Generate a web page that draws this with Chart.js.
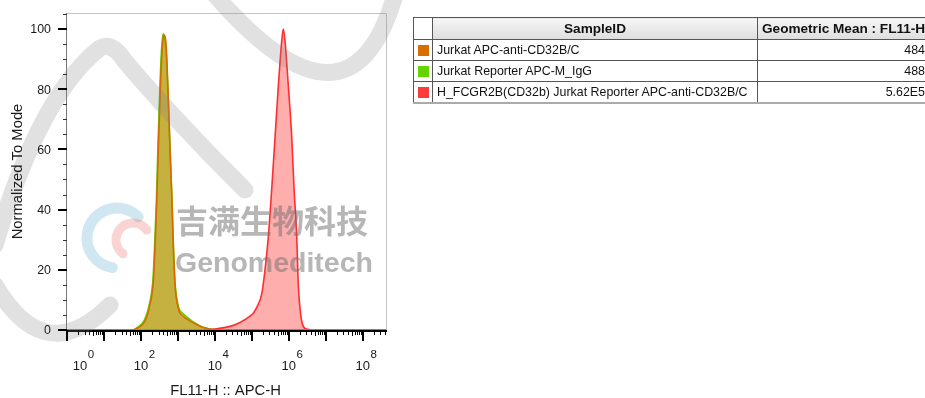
<!DOCTYPE html>
<html><head><meta charset="utf-8">
<script src="https://cdn.jsdelivr.net/npm/chart.js@4/dist/chart.umd.min.js"></script>
<style>
html,body{margin:0;padding:0;background:#fff;}
#wrap{position:relative;width:925px;height:398px;overflow:hidden;}
#c{position:absolute;left:0;top:0;}
table{position:absolute;left:413px;top:17px;border-collapse:collapse;table-layout:fixed;width:516px;
 font-family:"Liberation Sans",Arial,sans-serif;font-size:12.4px;color:#111;}
td,th{border:1px solid #555;padding:0 4px;white-space:nowrap;overflow:hidden;}
th{height:21px;font-weight:bold;font-size:13.6px;background:linear-gradient(#f6f6f6,#dedede);}
th.blank{background:#fff;}
td{height:20px;}
td.sw{padding:0;text-align:center;}
td.sw span{display:inline-block;width:11px;height:11px;vertical-align:middle;}
td.num{text-align:right;}
tr.last td{border-bottom:2px solid #aaa;}
</style>
</head><body>
<div id="wrap">
<canvas id="c" width="925" height="398"></canvas>
<table id="tbl">
<colgroup><col style="width:19px"><col style="width:325px"><col style="width:172px"></colgroup>
<thead><tr><th class="blank"></th><th id="h1"></th><th id="h2"></th></tr></thead>
<tbody id="tb"></tbody>
</table>
</div>
<script>
// ---- data (FL11-H channel values, normalized-to-mode counts) ----
const sampleNames = ["Jurkat APC-anti-CD32B/C", "Jurkat Reporter APC-M_IgG", "H_FCGR2B(CD32b) Jurkat Reporter APC-anti-CD32B/C"];
const geoMeans = ["484", "488", "5.62E5"];
const seriesColors = ["#d86e00", "#66d400", "#ff3a3a"];
const tableHeaders = ["SampleID", "Geometric Mean : FL11-H"];

const orangeX = [1, 60, 77, 129, 176, 216, 240, 267, 295, 328, 365, 400, 430, 470, 498, 551, 612, 681, 752, 836, 1026, 1403, 2000, 2612, 4406, 7396, 10000, 4.27e8];
const orangeY = [0, 0, 0.5, 3.0, 8.5, 16, 27, 42, 60, 77, 91, 97, 98, 96, 91, 77, 60, 45, 28, 15, 7.2, 4.6, 3.2, 2.4, 1.0, 0.3, 0, 0];

const greenX = [1, 60, 75, 125, 172, 212, 236, 262, 290, 322, 360, 403, 445, 490, 545, 610, 680, 752, 836, 1026, 1403, 2000, 2612, 4406, 7396, 10000, 4.27e8];
const greenY = [0, 0, 0.6, 3.4, 9, 17, 29, 43, 62, 79, 93, 98.5, 96, 91, 77, 61, 46, 29, 16, 8, 5.4, 3.8, 2.7, 1.1, 0.3, 0, 0];

const redX = [1, 5000, 9078, 25700, 47860, 89330, 109600, 135800, 185400, 227500, 280000, 346000, 424600, 521200, 644200, 711200, 790700, 972800, 1202000, 1387000, 1640000, 1811000, 2104000, 2472000, 3055000, 4000000, 4.27e8];
const redY = [0, 0, 0.3, 1.2, 2.5, 4.6, 5.6, 7.5, 12, 20, 31, 47, 64, 81, 96, 100, 96, 81, 64, 47, 31, 15, 5, 1.2, 0.3, 0, 0];

const xDecades = [0, 1, 2, 3, 4, 5, 6, 7, 8];
const xLabelDecades = [0, 2, 4, 6, 8];
const xMinorMultipliers = [2, 3, 4, 5, 6, 7, 8, 9];
const yMajorTicks = [0, 20, 40, 60, 80, 100];
const yMinorTicks = [5, 10, 15, 25, 30, 35, 45, 50, 55, 65, 70, 75, 85, 90, 95, 105];
const xAxisMin = 1, xAxisMaxExp = 8.63, yAxisMin = 0, yAxisMax = 105.3;
const xTitle = "FL11-H :: APC-H";
const yTitle = "Normalized To Mode";
const watermarkCN = "吉满生物科技";
const watermarkEN = "Genomeditech";

// ---- table ----
document.getElementById('h1').textContent = tableHeaders[0];
document.getElementById('h2').textContent = tableHeaders[1];
const tb = document.getElementById('tb');
sampleNames.forEach((n, i) => {
  const tr = document.createElement('tr');
  if (i === sampleNames.length - 1) tr.className = 'last';
  tr.innerHTML = '<td class="sw"><span style="background:' + seriesColors[i] + '"></span></td><td></td><td class="num"></td>';
  tr.children[1].textContent = n;
  tr.children[2].textContent = geoMeans[i];
  tb.appendChild(tr);
});

const pts = (xs, ys) => xs.map((x, i) => ({x: x, y: ys[i]}));
const FONT = '"Liberation Sans", Arial, sans-serif';

function drawWatermark(ctx) {
  ctx.save();
  ctx.lineCap = 'round'; ctx.lineJoin = 'round';
  ctx.strokeStyle = 'rgba(130,130,130,0.24)';
  ctx.lineWidth = 17;
  ctx.beginPath();
  ctx.moveTo(-5, 245);
  ctx.quadraticCurveTo(40, 95, 100, 48);
  ctx.quadraticCurveTo(112, 42, 124, 60);
  ctx.quadraticCurveTo(170, 115, 245, 190);
  ctx.stroke();
  ctx.beginPath(); ctx.moveTo(215, -5); ctx.quadraticCurveTo(350, 150, 395, -5); ctx.stroke();
  ctx.beginPath(); ctx.moveTo(-5, 285); ctx.quadraticCurveTo(45, 370, 110, 305); ctx.stroke();
  // logo swirl
  ctx.lineWidth = 11;
  ctx.strokeStyle = 'rgba(150,200,225,0.45)';
  ctx.beginPath(); ctx.arc(117, 238, 30, Math.PI * 0.55, Math.PI * 1.75); ctx.stroke();
  ctx.strokeStyle = 'rgba(240,130,130,0.35)';
  ctx.lineWidth = 9;
  ctx.beginPath(); ctx.arc(133, 240, 17, Math.PI * 0.7, Math.PI * 1.8); ctx.stroke();
  // text
  ctx.fillStyle = 'rgba(110,110,110,0.5)';
  ctx.textAlign = 'left'; ctx.textBaseline = 'alphabetic';
  ctx.font = 'bold 32px "Noto Sans CJK SC", sans-serif';
  ctx.fillText(watermarkCN, 176, 233);
  ctx.font = 'bold 28.5px "Liberation Sans", Arial, sans-serif';
  ctx.fillText(watermarkEN, 175, 272);
  ctx.restore();
}

const flowAxes = {
  id: 'flowAxes',
  beforeDatasetsDraw(chart) {
    const {ctx, chartArea: a} = chart;
    ctx.save();
    ctx.lineWidth = 1;
    ctx.strokeStyle = '#c4c4c4';
    ctx.beginPath();
    ctx.moveTo(a.left, a.top + 0.5); ctx.lineTo(a.right + 0.5, a.top + 0.5); ctx.lineTo(a.right + 0.5, a.bottom);
    ctx.stroke();
    ctx.strokeStyle = '#777';
    ctx.beginPath(); ctx.moveTo(a.left - 0.5, a.top); ctx.lineTo(a.left - 0.5, a.bottom); ctx.stroke();
    ctx.strokeStyle = '#000'; ctx.lineWidth = 2;
    ctx.beginPath(); ctx.moveTo(a.left - 1, a.bottom + 1); ctx.lineTo(a.right + 1, a.bottom + 1); ctx.stroke();
    ctx.restore();
  },
  afterDatasetsDraw(chart) {
    const {ctx, chartArea: a, scales: {x, y}} = chart;
    drawWatermark(ctx);
    ctx.save();
    // y ticks
    ctx.fillStyle = '#000';
    yMajorTicks.forEach(v => {
      const py = Math.round(y.getPixelForValue(v));
      ctx.fillRect(a.left - 9, py - 1, 9, 2);
    });
    ctx.fillStyle = '#333';
    yMinorTicks.forEach(v => {
      const py = Math.round(y.getPixelForValue(v));
      ctx.fillRect(a.left - 4, py, 4, 1);
    });
    // x ticks
    ctx.fillStyle = '#000';
    xDecades.forEach(d => {
      const px = Math.round(x.getPixelForValue(Math.pow(10, d)));
      ctx.fillRect(px - 1, a.bottom, 2, 11);
      xMinorMultipliers.forEach(m => {
        const mx = Math.round(x.getPixelForValue(m * Math.pow(10, d)));
        if (mx < a.right) ctx.fillRect(mx, a.bottom, 1, m === 5 ? 6 : 5);
      });
    });
    // y labels
    ctx.fillStyle = '#1a1a1a';
    ctx.font = '12.4px ' + FONT;
    ctx.textAlign = 'right'; ctx.textBaseline = 'middle';
    yMajorTicks.forEach(v => ctx.fillText(String(v), a.left - 16, y.getPixelForValue(v) + 1));
    // x labels 10^n
    xLabelDecades.forEach(d => {
      let px = x.getPixelForValue(Math.pow(10, d));
      px = Math.max(px, a.left + 13);
      ctx.font = '13px ' + FONT;
      ctx.textAlign = 'center'; ctx.textBaseline = 'alphabetic';
      ctx.fillText('10', px, a.bottom + 40);
      const w = ctx.measureText('10').width;
      ctx.font = '11.5px ' + FONT;
      ctx.textAlign = 'left';
      ctx.fillText(String(d), px + w / 2 + 0.5, a.bottom + 28);
    });
    // titles
    ctx.font = '14.8px ' + FONT;
    ctx.textAlign = 'center'; ctx.textBaseline = 'alphabetic';
    ctx.fillText(xTitle, (a.left + a.right) / 2 - 1, 395);
    ctx.translate(22, (a.top + a.bottom) / 2);
    ctx.rotate(-Math.PI / 2);
    ctx.fillText(yTitle, 0, 0);
    ctx.restore();
  }
};

new Chart(document.getElementById('c'), {
  type: 'line',
  data: {
    datasets: [
      {label: sampleNames[0], data: pts(orangeX, orangeY), borderColor: '#d96a00', backgroundColor: 'rgba(214,118,0,0.5)',
       fill: 'origin', borderWidth: 1.6, pointRadius: 0, cubicInterpolationMode: 'monotone'},
      {label: sampleNames[1], data: pts(greenX, greenY), borderColor: '#5ed400', backgroundColor: 'rgba(110,220,0,0.5)',
       fill: 'origin', borderWidth: 1.6, pointRadius: 0, cubicInterpolationMode: 'monotone'},
      {label: sampleNames[2], data: pts(redX, redY), borderColor: '#ff2e2e', backgroundColor: 'rgba(255,62,62,0.42)',
       fill: 'origin', borderWidth: 1.6, pointRadius: 0, cubicInterpolationMode: 'monotone'}
    ]
  },
  options: {
    responsive: false, animation: false, devicePixelRatio: 1,
    layout: {padding: {left: 67, top: 13, right: 539, bottom: 68}},
    plugins: {legend: {display: false}, tooltip: {enabled: false}},
    scales: {
      x: {type: 'logarithmic', min: xAxisMin, max: Math.pow(10, xAxisMaxExp),
          ticks: {display: false}, grid: {display: false}, border: {display: false}, afterFit(s) { s.height = 0; }},
      y: {type: 'linear', min: yAxisMin, max: yAxisMax,
          ticks: {display: false}, grid: {display: false}, border: {display: false}, afterFit(s) { s.width = 0; }}
    }
  },
  plugins: [flowAxes]
});
</script>
</body></html>
